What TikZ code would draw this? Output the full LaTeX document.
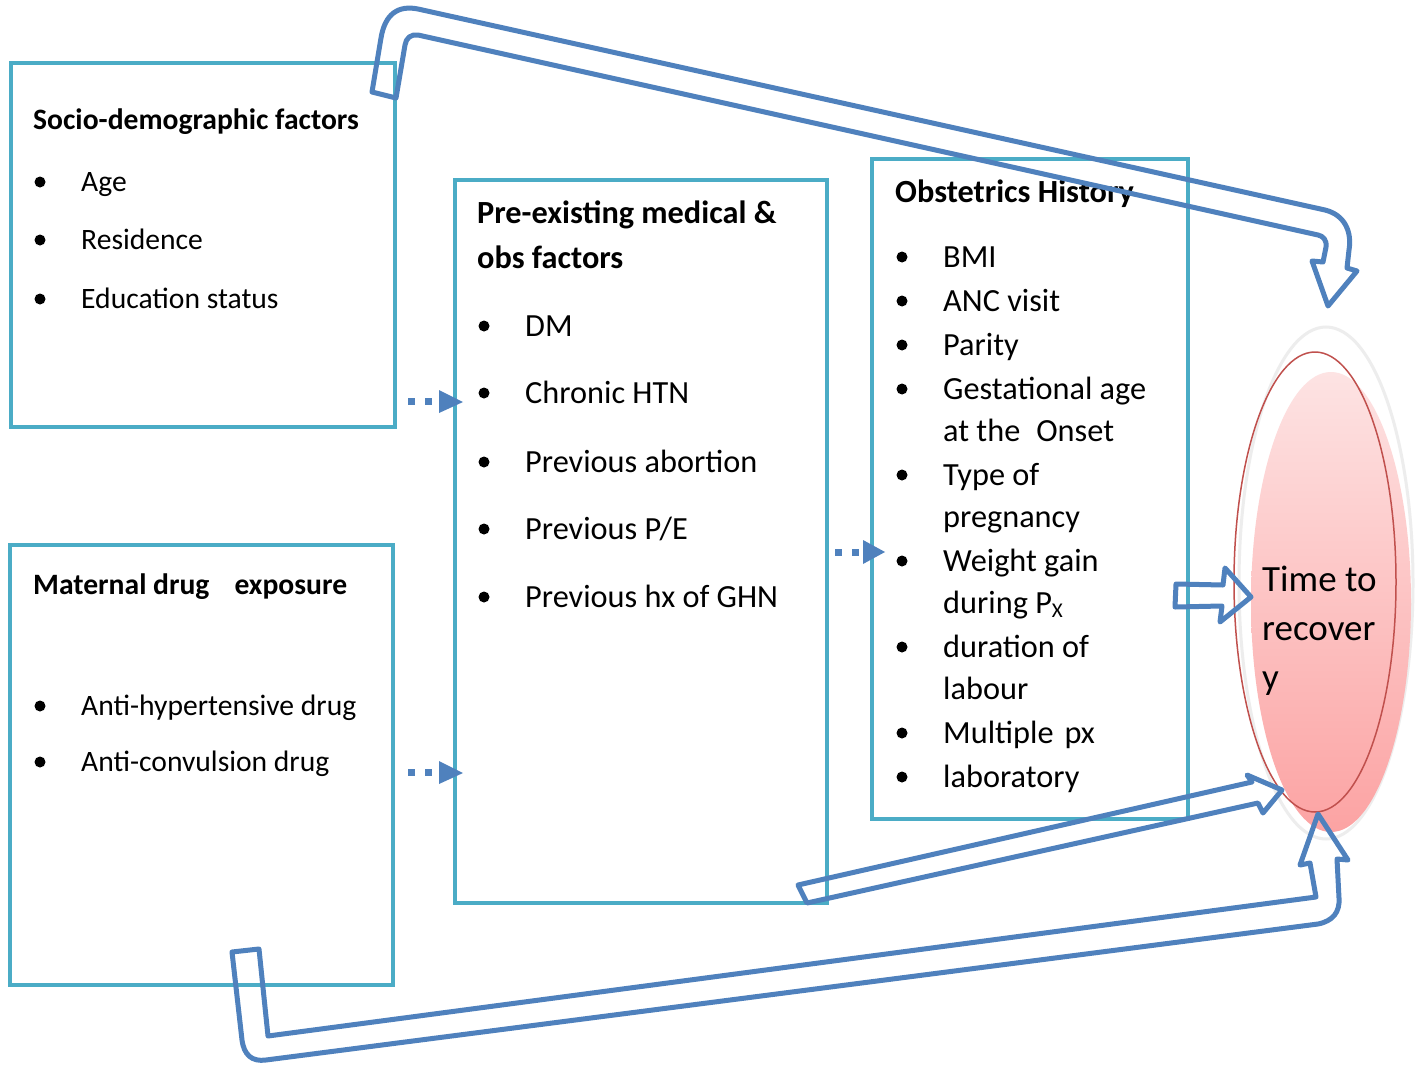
\documentclass[tikz,border=0pt]{standalone}
\usepackage{fontspec}
\setmainfont{Carlito}
\usetikzlibrary{shapes.geometric}
\definecolor{boxteal}{HTML}{4BACC6}
\definecolor{arrblue}{HTML}{4F81BD}
\definecolor{ellred}{HTML}{C0504D}
\definecolor{pinktop}{HTML}{FDE3E3}
\definecolor{pinkbot}{HTML}{FCA3A3}
\tikzset{
 panel/.style={draw=boxteal, line width=4pt, inner sep=0pt, rectangle},
 txt/.style={anchor=base west, inner sep=0pt, font=\fontsize{29.6}{35}\selectfont},
 hdr/.style={anchor=base west, inner sep=0pt, font=\fontsize{29.6}{35}\selectfont\bfseries},
 txtb/.style={anchor=base west, inner sep=0pt, font=\fontsize{32.3}{38}\selectfont},
 hdrb/.style={anchor=base west, inner sep=0pt, font=\fontsize{32.3}{38}\selectfont\bfseries},
 bul/.style={circle, fill=black, inner sep=0pt, minimum size=11pt},
 blockarr/.style={draw=arrblue, line width=5pt, line join=round},
 dots/.style={draw=arrblue, line width=7pt, dash pattern=on 7pt off 10pt},
 tri/.style={fill=arrblue},
 outtxt/.style={anchor=base west, inner sep=0pt, font=\fontsize{37}{44}\selectfont},
}
\begin{document}
\begin{tikzpicture}[x=1pt,y=-1pt]
\useasboundingbox (0,0) rectangle (1422,1065);
\fill[white] (0,0) rectangle (1422,1065);

% panels
\node[panel, minimum width=384pt, minimum height=364pt] (socio) at (203,245) {};
\node[panel, minimum width=383pt, minimum height=440pt] (drug) at (201.5,765) {};
\node[panel, minimum width=372pt, minimum height=723pt] (pre) at (641,541.5) {};
\node[panel, minimum width=316pt, minimum height=660pt] (obs) at (1030,489) {};

% socio texts
\node[hdr] (h1) at (33,129) {Socio-demographic factors};
\node[bul] (b11) at (40,182) {};
\node[txt] (t11) at (81,191) {Age};
\node[bul] (b12) at (40,240) {};
\node[txt] (t12) at (81,249) {Residence};
\node[bul] (b13) at (40,299) {};
\node[txt] (t13) at (81,308) {Education status};

% drug texts
\node[hdr] (h2) at (33,594) {Maternal drug\hspace{25pt}exposure};
\node[bul] (b21) at (40,706) {};
\node[txt] (t21) at (81,715) {Anti-hypertensive drug};
\node[bul] (b22) at (40,762) {};
\node[txt] (t22) at (81,771) {Anti-convulsion drug};

% pre-existing texts
\node[hdrb] (h3a) at (477,223) {Pre-existing medical \&};
\node[hdrb] (h3b) at (477,268) {obs factors};
\node[bul] (b31) at (484,326) {};
\node[txtb] (t31) at (525,336) {DM};
\node[bul] (b32) at (484,393) {};
\node[txtb] (t32) at (525,403) {Chronic HTN};
\node[bul] (b33) at (484,462) {};
\node[txtb] (t33) at (525,472) {Previous abortion};
\node[bul] (b34) at (484,529) {};
\node[txtb] (t34) at (525,539) {Previous P/E};
\node[bul] (b35) at (484,597) {};
\node[txtb] (t35) at (525,607) {Previous hx of GHN};

% obstetrics texts
\node[hdrb] (h4) at (895,202) {Obstetrics History};
\node[bul] (b41) at (902,257) {};
\node[txtb] (t41) at (943,267) {BMI};
\node[bul] (b42) at (902,301) {};
\node[txtb] (t42) at (943,311) {ANC visit};
\node[bul] (b43) at (902,345) {};
\node[txtb] (t43) at (943,355) {Parity};
\node[bul] (b44) at (902,389) {};
\node[txtb] (t44a) at (943,399) {Gestational age};
\node[txtb] (t44b) at (943,441) {at the\hspace{16pt}Onset};
\node[bul] (b45) at (902,475) {};
\node[txtb] (t45a) at (943,485) {Type of};
\node[txtb] (t45b) at (943,527) {pregnancy};
\node[bul] (b46) at (902,561) {};
\node[txtb] (t46a) at (943,571) {Weight gain};
\node[txtb] (t46b) at (943,613) {during P{\fontsize{21}{21}\selectfont\raisebox{-4pt}{X}}};
\node[bul] (b47) at (902,647) {};
\node[txtb] (t47a) at (943,657) {duration of};
\node[txtb] (t47b) at (943,699) {labour};
\node[bul] (b48) at (902,733) {};
\node[txtb] (t48) at (943,743) {Multiple\hspace{11pt}px};
\node[bul] (b49) at (902,777) {};
\node[txtb] (t49) at (943,787) {laboratory};

% outcome ellipse
\draw[gray!14, line width=3pt, fill=white] (1326,583) ellipse [x radius=87, y radius=256];
\shade[top color=pinktop, bottom color=pinkbot] (1331,602) ellipse [x radius=80, y radius=230];
\node[draw=ellred, line width=1.5pt, ellipse, inner sep=0pt, minimum width=162pt, minimum height=460pt] (outcome) at (1315,582) {};
\node[outtxt] (o1) at (1262,591) {Time to};
\node[outtxt] (o2) at (1262,640) {recover};
\node[outtxt] (o3) at (1262,689) {y};

% dotted arrows
\draw[dots] (408,401) -- (436,401);
\fill[tri] (439,390) -- (463,402) -- (439,413) -- cycle;
\draw[dots] (408,772) -- (436,772);
\fill[tri] (439,761) -- (463,773) -- (439,784) -- cycle;
\draw[dots] (835,552) -- (862,552);
\fill[tri] (863,540) -- (885,552) -- (863,564) -- cycle;

% block arrows
\draw[blockarr] (372,92) -- (381,38) .. controls (385,14) and (398,5) .. (418,9)
  -- (1325,210) .. controls (1345,215) and (1352,232) .. (1349,250)
  -- (1347,268) -- (1357,271) -- (1328,306) -- (1312,261) -- (1323,262)
  -- (1326,247) .. controls (1327,240) and (1323,236) .. (1318,235)
  -- (418,35) .. controls (411,34) and (406,38) .. (405,45) -- (396,98) -- cycle;

\draw[blockarr] (1176,584) -- (1223,585) -- (1225,568) -- (1251,597)
  -- (1220,622) -- (1222,606) -- (1175,607) -- cycle;

\draw[blockarr] (798,885) -- (1252,782) -- (1247,775) -- (1282,790)
  -- (1263,813) -- (1258,803) -- (807,903) -- cycle;

\draw[blockarr] (232,952) -- (242,1040) .. controls (244,1055) and (252,1062) .. (266,1060)
  -- (1318,924) .. controls (1333,921) and (1340,912) .. (1339,898)
  -- (1337,859) -- (1348,860) -- (1318,814) -- (1300,865) -- (1310,863)
  -- (1316,897) -- (268,1036) -- (259,949) -- cycle;
\end{tikzpicture}
\end{document}
